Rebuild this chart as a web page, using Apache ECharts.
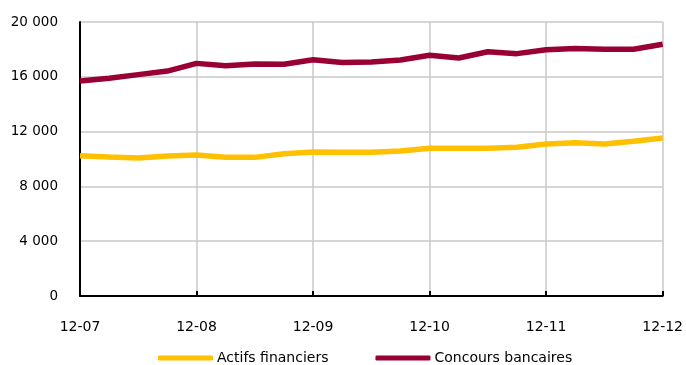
<!DOCTYPE html>
<html>
<head>
<meta charset="utf-8">
<script src="https://cdn.jsdelivr.net/npm/echarts@6/dist/echarts.min.js"></script>
<style>
  html, body { margin: 0; padding: 0; background: #fff; }
  #chart { width: 686px; height: 365px; }
</style>
</head>
<body>
<div id="chart"></div>
<script>
// trimestres de déc. 2007 à déc. 2012
const quarters = [
  '12-07', '03-08', '06-08', '09-08',
  '12-08', '03-09', '06-09', '09-09',
  '12-09', '03-10', '06-10', '09-10',
  '12-10', '03-11', '06-11', '09-11',
  '12-11', '03-12', '06-12', '09-12',
  '12-12'
]
const actifsFinanciers = [
  10240, 10150, 10070, 10220, 10290, 10120, 10120, 10390, 10510, 10490,
  10490, 10580, 10780, 10780, 10780, 10850, 11090, 11190, 11090, 11290, 11530
]
const concoursBancaires = [
  15700, 15890, 16160, 16420, 16980, 16810, 16930, 16910, 17250, 17050,
  17080, 17230, 17570, 17370, 17830, 17690, 17980, 18060, 18010, 18010, 18370
]
const yTicks = [0, 4000, 8000, 12000, 16000, 20000]

const font = 'Tahoma, "DejaVu Sans", Verdana, sans-serif'

// séparateur de milliers avec espace
function fmt(v){
  return String(v).replace(/\B(?=(\d{3})+(?!\d))/g, ' ')
}

const chart = echarts.init(document.getElementById('chart'))
const option = {
  animation: false,
  grid: { left: 80, right: 22, top: 22, bottom: 69 },
  legend: {
    bottom: -5,
    left: 153,
    itemWidth: 55,
    itemHeight: 5,
    itemGap: 47,
    icon: 'roundRect',
    textStyle: { fontFamily: font, fontSize: 14, color: '#000', padding: [0, 0, 0, -1] },
    data: ['Actifs financiers', 'Concours bancaires']
  },
  xAxis: {
    type: 'category',
    boundaryGap: false,
    data: quarters,
    axisLine: { lineStyle: { color: '#000', width: 2 } },
    axisTick: { inside: true, length: 5, interval: 3, lineStyle: { color: '#000', width: 2 } },
    axisLabel: {
      interval: 3, margin: 24, color: '#000',
      fontFamily: font, fontSize: 14
    },
    splitLine: { show: true, interval: 3, lineStyle: { color: '#c8c8c8', width: 1.5 } }
  },
  yAxis: {
    type: 'value',
    min: yTicks[0],
    max: yTicks[yTicks.length - 1],
    interval: 4000,
    axisLine: { show: true, lineStyle: { color: '#000', width: 2 } },
    axisTick: { show: false },
    axisLabel: {
      margin: 22, color: '#000',
      fontFamily: font, fontSize: 13.5,
      formatter: fmt
    },
    splitLine: { lineStyle: { color: '#c8c8c8', width: 1.5 } }
  },
  series: [
    {
      name: 'Actifs financiers',
      type: 'line',
      data: actifsFinanciers,
      symbol: 'none',
      color: '#FFC000',
      lineStyle: { width: 5.5, color: '#FFC000' }
    },
    {
      name: 'Concours bancaires',
      type: 'line',
      data: concoursBancaires,
      symbol: 'none',
      color: '#990033',
      lineStyle: { width: 5.5, color: '#990033' }
    }
  ]
}
chart.setOption(option)
</script>
</body>
</html>
